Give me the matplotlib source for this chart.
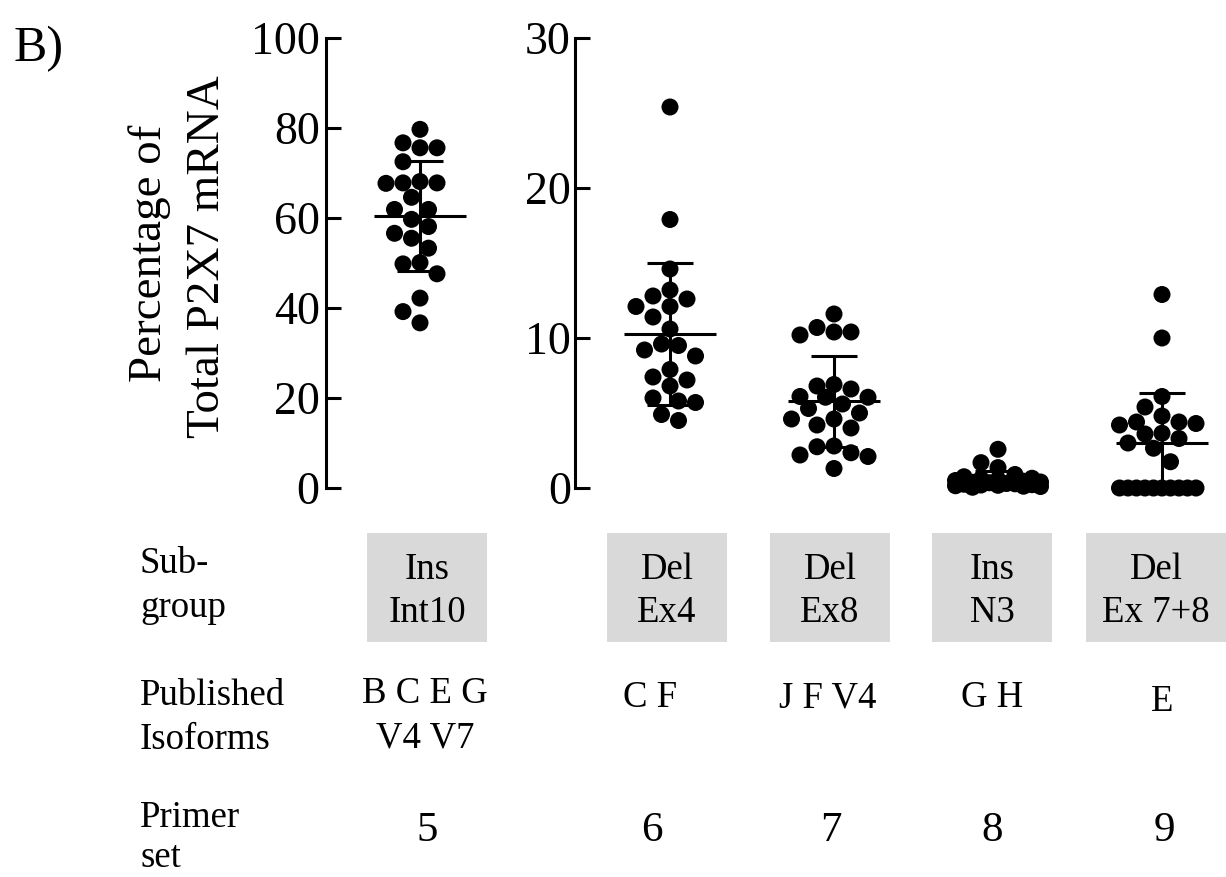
import numpy as np
import matplotlib
matplotlib.use('Agg')
import matplotlib.pyplot as plt
from matplotlib.patches import Rectangle

plt.rcParams['font.family'] = ['Liberation Serif', 'DejaVu Serif']

# percentage of total P2X7 mRNA, one value per sample
primer5 = [79.7, 75.6, 76.7, 75.6, 72.5, 67.8, 67.8, 67.7, 68.1, 64.6, 61.9, 61.9,
           59.7, 58.1, 55.5, 56.6, 53.3, 50.1, 49.8, 47.6, 42.2, 39.2, 36.7]
primer6 = [25.4, 17.9, 14.6, 13.2, 12.8, 12.6, 12.1, 12.1, 11.4, 10.6, 9.6, 9.5,
           9.2, 8.8, 7.9, 7.4, 7.2, 6.8, 6.0, 5.8, 5.7, 4.9, 4.5]
primer7 = [11.6, 10.7, 10.4, 10.2, 10.4, 6.9, 6.6, 6.8, 6.05, 6.05, 6.1, 5.6,
           5.0, 5.3, 4.6, 4.6, 4.0, 4.2, 2.8, 2.75, 2.2, 2.1, 2.35, 1.3]
primer8 = [2.58, 1.69, 1.36, 0.9, 0.75, 0.65, 0.6, 0.55, 0.5, 0.45, 0.4, 0.38,
           0.35, 0.3, 0.28, 0.25, 0.22, 0.2, 0.18, 0.15, 0.12, 0.1, 0.05]
primer9 = [12.9, 10.0, 6.1, 5.4, 4.8, 4.2, 4.4, 4.3, 4.4, 3.6, 3.65, 3.3, 3.0,
           2.65, 1.75, 0, 0, 0, 0, 0, 0, 0, 0, 0, 0]

subgroups = ['Ins\nInt10', 'Del\nEx4', 'Del\nEx8', 'Ins\nN3', 'Del\nEx 7+8']
isoforms = ['B C E G\nV4 V7', 'C F', 'J F V4', 'G H', 'E']
primer_sets = ['5', '6', '7', '8', '9']

W, H = 1226, 877
PX = 164.0   # pixels per group on the x axis
DOT = 17.0   # dot diameter in pixels

fig = plt.figure(figsize=(W / 100, H / 100), dpi=100)

axL = fig.add_axes([326 / W, 1 - 488 / H, 204 / W, 450 / H])
axL.set_xlim(-94 / PX, 110 / PX)
axL.set_ylim(0, 100)
axL.set_yticks(np.arange(0, 101, 20))

axR = fig.add_axes([575 / W, 1 - 488 / H, 651 / W, 450 / H])
axR.set_xlim(-95 / PX, 556 / PX)
axR.set_ylim(0, 30)
axR.set_yticks(np.arange(0, 31, 10))

for ax, pad in ((axL, 4.5), (axR, 3)):
    ax.patch.set_visible(False)
    for s in ('top', 'right', 'bottom'):
        ax.spines[s].set_visible(False)
    ax.spines['left'].set_linewidth(2.2)
    ax.set_xticks([])
    ax.tick_params(axis='y', direction='in', length=10.8, width=2.2,
                   labelsize=33, pad=pad)


def swarm(ax, vals, step=DOT / 2, maxoff=48.0):
    # simple beeswarm: nearest free slot to the centre, overlap when full
    vals = np.asarray(vals, float)
    ypx = ax.transData.transform(np.column_stack([np.zeros_like(vals), vals]))[:, 1]
    slots = [0.0]
    for k in range(1, int(maxoff // step) + 1):
        slots += [-k * step, k * step]
    px, py = [], []
    offs = np.zeros(len(vals))
    for i in np.argsort(-vals, kind='stable'):
        if px:
            dmin = [np.min(np.hypot(s - np.array(px), ypx[i] - np.array(py))) for s in slots]
        else:
            dmin = [np.inf] * len(slots)
        choice = next((s for s, d in zip(slots, dmin) if d >= DOT * 0.97), None)
        if choice is None:
            choice = slots[int(np.argmax(dmin))]
        px.append(choice)
        py.append(ypx[i])
        offs[i] = choice
    return offs / PX


def group(ax, x, vals):
    vals = np.asarray(vals, float)
    ax.scatter(x + swarm(ax, vals), vals, s=150, color='black', edgecolors='none',
               clip_on=False, zorder=3)
    m = vals.mean()
    sd = vals.std(ddof=1)
    ax.errorbar(x, m, yerr=sd, fmt='none', ecolor='black', elinewidth=2.2,
                capsize=16.5, capthick=2.2, zorder=4)
    ax.plot([x - 46 / PX, x + 46 / PX], [m, m], color='black', lw=2.2,
            solid_capstyle='butt', zorder=4)


group(axL, 0, primer5)
for i, vals in enumerate([primer6, primer7, primer8, primer9]):
    group(axR, i, vals)

# y label and panel letter
fig.text(161 / W, 1 - 253 / H, 'Percentage of', rotation=90, rotation_mode='anchor',
         ha='center', va='baseline', fontsize=33.8)
fig.text(219 / W, 1 - 257 / H, 'Total P2X7 mRNA', rotation=90, rotation_mode='anchor',
         ha='center', va='baseline', fontsize=33.8)
fig.text(14 / W, 1 - 61 / H, 'B)', fontsize=36, va='baseline')

# table below the plots, drawn in pixel coordinates
tab = fig.add_axes([0, 0, 1, 1], zorder=-1)
tab.set_xlim(0, W)
tab.set_ylim(H, 0)
tab.axis('off')


def lines(x, y0, txt, gap=44, size=26.5, ha='center'):
    for k, line in enumerate(txt.split('\n')):
        tab.text(x, y0 + k * gap, line, ha=ha, va='baseline', fontsize=size)


lines(140, 573, 'Sub-\ngroup', ha='left')
lines(140, 705, 'Published\nIsoforms', ha='left')
lines(140, 827, 'Primer\nset', ha='left', gap=40)

box_x = [427, 667, 830, 992, 1156]
box_w = [120, 120, 120, 120, 140]
iso_x = [425, 650, 828, 992, 1162]
iso_y = [703, 707, 707, 707, 711]
num_x = [427, 652, 831, 992, 1164]

for i in range(5):
    tab.add_patch(Rectangle((box_x[i] - box_w[i] / 2, 533), box_w[i], 109,
                            facecolor='#d9d9d9', edgecolor='none'))
    lines(box_x[i], 579, subgroups[i], gap=43)
    lines(iso_x[i], iso_y[i], isoforms[i])
    lines(num_x[i], 841, primer_sets[i], size=31)

fig.savefig('out.png', dpi=100)
